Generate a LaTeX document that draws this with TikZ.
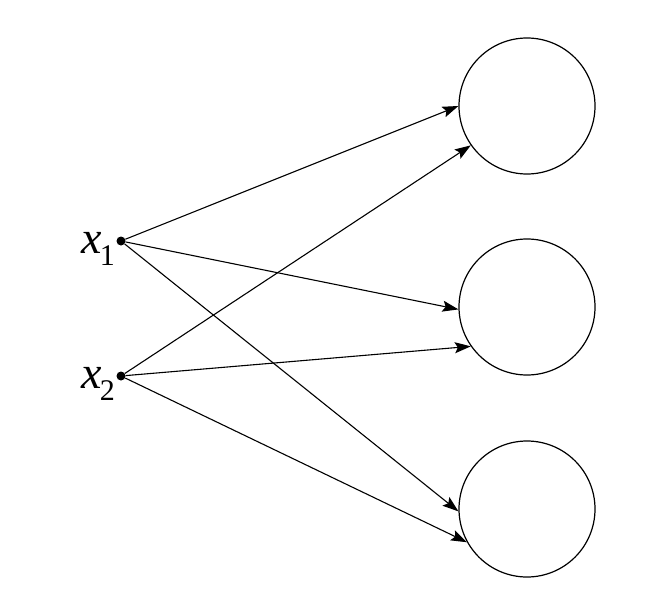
\documentclass[tikz,border=0pt]{standalone}
\usepackage{fontspec}
\newfontfamily\tms{Liberation Serif}
\usetikzlibrary{arrows.meta}
\newcommand{\xlab}[1]{{\fontsize{46}{50}\selectfont\itshape x}\kern-2pt\raisebox{-12pt}{\fontsize{30}{32}\selectfont\upshape #1}}
\begin{document}
\begin{tikzpicture}[x=1pt,y=-1pt,
  neuron/.style={draw,circle,line width=1.2pt,minimum size=136pt,inner sep=0pt},
  inp/.style={circle,fill=black,inner sep=0pt,minimum size=9pt},
  conn/.style={line width=1.1pt,-{Stealth[length=16pt,width=11pt,inset=3pt]}},
  lab/.style={font=\tms,anchor=base east,inner sep=0pt}]
\useasboundingbox (0,0) rectangle (650,607);
\node[neuron] (c1) at (527,106) {};
\node[neuron] (c2) at (527,307) {};
\node[neuron] (c3) at (527,509) {};
\node[inp] (x1) at (121,241) {};
\node[inp] (x2) at (121,376) {};
\node[lab] (l1) at (115,253) {\xlab{1}};
\node[lab] (l2) at (115,388) {\xlab{2}};
\draw[conn] (x1) -- (c1.180);
\draw[conn] (x1) -- (c2.182);
\draw[conn] (x1) -- (c3.182);
\draw[conn] (x2) -- (c1.215);
\draw[conn] (x2) -- (c2.215);
\draw[conn] (x2) -- (c3.209);
\end{tikzpicture}
\end{document}
